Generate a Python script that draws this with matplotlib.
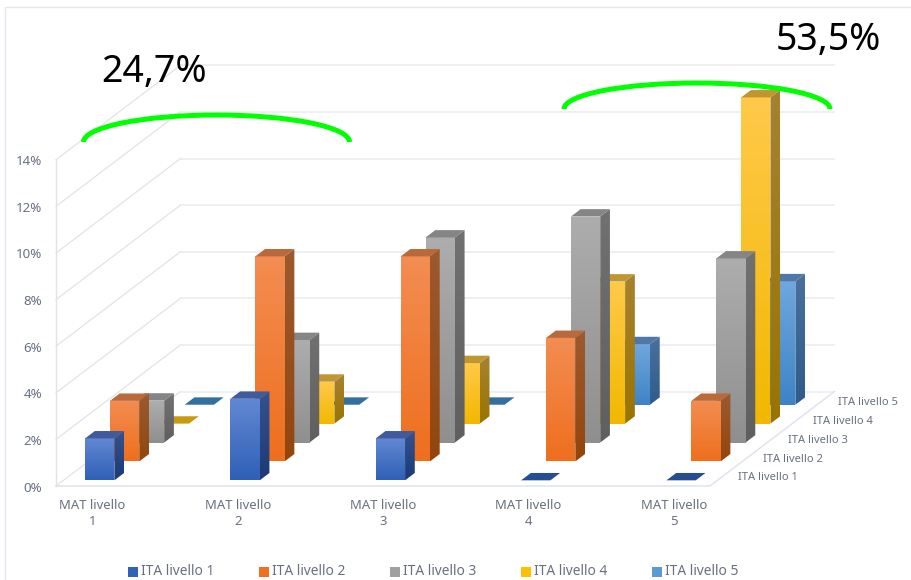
#!/usr/bin/env python3
"""Pseudo-3D clustered columns: MAT livello vs ITA livello."""

import numpy as np
import matplotlib
matplotlib.use("Agg")
import matplotlib.pyplot as plt
from matplotlib.colors import to_rgb
from matplotlib.patches import Arc, Polygon, Rectangle

plt.rcParams["font.family"] = ["Noto Sans", "DejaVu Sans"]

CATEGORIES = ["MAT livello\n1", "MAT livello\n2", "MAT livello\n3",
              "MAT livello\n4", "MAT livello\n5"]
SERIES = ["ITA livello 1", "ITA livello 2", "ITA livello 3",
          "ITA livello 4", "ITA livello 5"]

ita_1 = [1.8, 3.5, 1.8, 0, 0]
ita_2 = [2.6, 8.8, 8.8, 5.3, 2.6]
ita_3 = [1.8, 4.4, 8.8, 9.7, 7.9]
ita_4 = [0, 1.8, 2.6, 6.1, 14.0]
ita_5 = [0, 0, 0, 2.6, 5.3]
VALUES = [ita_1, ita_2, ita_3, ita_4, ita_5]

TICKS = [0, 2, 4, 6, 8, 10, 12, 14]

# front top, front bottom, side top, side bottom, top face, legend
COLORS = [
    ("#6288d2", "#2f60b6", "#34528f", "#1c3a76", "#3f5b9e", "#2f62b8"),
    ("#f38d52", "#ee6f1e", "#9c5a30", "#92460d", "#b86a3a", "#ee7020"),
    ("#adadad", "#8f8f8f", "#717171", "#5f5f5f", "#858585", "#a0a0a0"),
    ("#ffc94a", "#f2b800", "#a68230", "#9a7400", "#bf9630", "#ffc000"),
    ("#6fa7de", "#3f83c6", "#4a709c", "#2d5c8c", "#4f78a6", "#5b9bd5"),
]
FLAT_COLORS = ["#254d92", "#b86a3a", "#858585", "#c99a10", "#34709f"]

# projection, in pixels of the 912x580 canvas
X_LEFT, X_RIGHT = 56, 710
FLOOR_Y = 486
UNIT = 23.3          # px per percentage point
DEPTH_DX, DEPTH_DY = 24.9, 18.9   # px per series along the depth axis
CAT_X0, CAT_STEP = 77.6, 145.35
BAR_W, BAR_D, BAR_GAP = 29.3, 0.39, 0.3

GRID_BACK = "#e9e9f0"
GRID_SIDE = "#e3e3e6"
TEXT = "#687080"
N_DEPTH = len(SERIES)


def project(x, depth, value):
    return x + depth * DEPTH_DX, FLOOR_Y - depth * DEPTH_DY - value * UNIT


def shaded(ax, pts, top, bottom, z):
    """Fill a polygon with a vertical gradient, clipped to its outline."""
    xs, ys = zip(*pts)
    c0, c1 = np.array(to_rgb(top)), np.array(to_rgb(bottom))
    ramp = np.linspace(0, 1, 64)[:, None, None]
    img = c0[None, None, :] * (1 - ramp) + c1[None, None, :] * ramp
    im = ax.imshow(img, extent=[min(xs), max(xs), max(ys), min(ys)],
                   aspect="auto", zorder=z, interpolation="bilinear")
    poly = Polygon(pts, closed=True, transform=ax.transData)
    im.set_clip_path(poly)


def draw_bar(ax, k, s, value, z):
    x0 = CAT_X0 + k * CAT_STEP
    x1 = x0 + BAR_W
    d0, d1 = s + BAR_GAP, s + BAR_GAP + BAR_D
    top_face = [project(x0, d0, value), project(x1, d0, value),
                project(x1, d1, value), project(x0, d1, value)]
    if value == 0:
        ax.add_patch(Polygon(top_face, closed=True, fc=FLAT_COLORS[s], ec="none", zorder=z))
        return
    c = COLORS[s]
    front = [project(x0, d0, value), project(x1, d0, value),
             project(x1, d0, 0), project(x0, d0, 0)]
    side = [project(x1, d0, value), project(x1, d1, value),
            project(x1, d1, 0), project(x1, d0, 0)]
    shaded(ax, front, c[0], c[1], z)
    shaded(ax, side, c[2], c[3], z)
    ax.add_patch(Polygon(top_face, closed=True, fc=c[4], ec="none", zorder=z))


def draw_frame(ax):
    ax.plot([4.7, 4.7, 912], [580, 7.3, 7.3], color="#e4e6f0", lw=1.0, zorder=1)
    bx0, _ = project(X_LEFT, N_DEPTH, 0)
    bx1, _ = project(X_RIGHT, N_DEPTH, 0)
    for t in TICKS:
        _, fy = project(0, 0, t)
        _, by = project(0, N_DEPTH, t)
        ax.plot([X_LEFT, bx0], [fy, by], color=GRID_SIDE, lw=0.9, zorder=1)
        ax.plot([bx0, bx1], [by, by], color=GRID_BACK, lw=1.1, zorder=1)
        ax.text(42, fy + 2, f"{t}%", ha="right", va="center", fontsize=9.6, color=TEXT)
    top = project(0, 0, TICKS[-1])[1]
    ax.plot([X_LEFT, X_LEFT], [FLOOR_Y, top], color=GRID_SIDE, lw=1.0, zorder=1)
    ax.plot([X_LEFT, X_RIGHT, bx1], [FLOOR_Y, FLOOR_Y, project(0, N_DEPTH, 0)[1]],
            color="#dfe3ee", lw=1.1, zorder=1)


def draw_labels(ax):
    for k, label in enumerate(CATEGORIES):
        ax.text(CAT_X0 + k * CAT_STEP + 15, 513.5, label, ha="center", va="center",
                fontsize=9.4, color=TEXT, linespacing=1.38)
    for s, label in enumerate(SERIES):
        ax.text(738 + s * DEPTH_DX, 478 - s * DEPTH_DY, label, ha="left", va="center",
                fontsize=8.0, color=TEXT)
    for s, label in enumerate(SERIES):
        x = 128.5 + s * 131
        ax.add_patch(Rectangle((x, 567), 9.5, 9.5, fc=COLORS[s][5], ec="none"))
        ax.text(x + 13, 571.5, label, ha="left", va="center", fontsize=9.9, color=TEXT)


def main():
    fig = plt.figure(figsize=(9.12, 5.8), dpi=100)
    ax = fig.add_axes([0, 0, 1, 1])
    draw_frame(ax)

    z = 2
    for s in range(len(SERIES) - 1, -1, -1):
        for k in range(len(CATEGORIES)):
            draw_bar(ax, k, s, VALUES[s][k], z)
            z += 1

    draw_labels(ax)

    ax.text(154.5, 72, "24,7%", ha="center", va="center", fontsize=27, color="black", zorder=200)
    ax.text(828, 40, "53,5%", ha="center", va="center", fontsize=27, color="black", zorder=200)
    for cx, cy, w, h in [(216.5, 142, 266, 54), (697, 109, 266, 52)]:
        ax.add_patch(Arc((cx, cy), w, h, theta1=180, theta2=360, color="#00ff00",
                         lw=3.6, capstyle="butt", zorder=201))

    ax.set_xlim(0, 912)
    ax.set_ylim(580, 0)
    ax.axis("off")
    fig.savefig("out.png", dpi=100, facecolor="white")


if __name__ == "__main__":
    main()
